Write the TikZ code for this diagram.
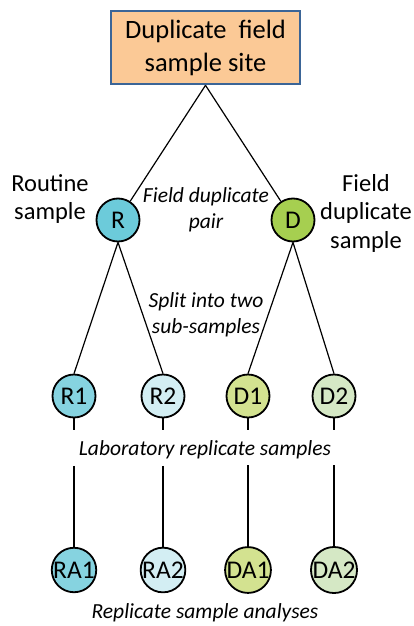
\documentclass[tikz,border=0pt]{standalone}
\usepackage{fontspec}
\setmainfont{Carlito}
\begin{document}
\begin{tikzpicture}[x=1pt,y=1pt,
  circ/.style={circle,draw=black,line width=1.8pt,minimum size=43pt,inner sep=0pt,font=\fontsize{25.5}{28}\selectfont},
  conn/.style={draw=black,line width=1.2pt},
  lbl/.style={font=\fontsize{24.5}{28.5}\selectfont,align=center},
  ilbl/.style={font=\fontsize{21.5}{26}\selectfont\itshape,align=center}]
\useasboundingbox (0,0) rectangle (414,-626);
\definecolor{boxfill}{HTML}{FBC996}
\definecolor{boxdraw}{HTML}{3B6597}
\definecolor{cR}{HTML}{6CCBDA}
\definecolor{cRone}{HTML}{86D3E0}
\definecolor{cRtwo}{HTML}{D3EEF3}
\definecolor{cD}{HTML}{A6CF50}
\definecolor{cDone}{HTML}{D3E290}
\definecolor{cDtwo}{HTML}{D5E8C5}
\node[draw=boxdraw,fill=boxfill,line width=2.6pt,minimum width=189pt,minimum height=73pt,align=center,font=\fontsize{26.5}{33}\selectfont] (site) at (205.5,-47.5) {Duplicate\ \ field\\sample site};
\node[circ,fill=cR] (R) at (118,-220) {R};
\node[circ,fill=cD] (D) at (293,-220) {D};
\node[circ,fill=cRone] (R1) at (74,-396) {R1};
\node[circ,fill=cRtwo] (R2) at (163,-396) {R2};
\node[circ,fill=cDone] (D1) at (248,-396) {D1};
\node[circ,fill=cDtwo] (D2) at (334,-396) {D2};
\node[circ,fill=cRone] (RA1) at (74,-570) {RA1};
\node[circ,fill=cRtwo] (RA2) at (163,-570) {RA2};
\node[circ,fill=cDone] (DA1) at (248,-570) {DA1};
\node[circ,fill=cDtwo] (DA2) at (334,-570) {DA2};
\node[lbl] (rs) at (50,-199) {Routine\\sample};
\node[lbl] (fds) at (366,-213) {Field\\duplicate\\sample};
\node[ilbl] (fdp) at (206,-210) {Field duplicate\\pair};
\node[ilbl] (split) at (206,-315) {Split into two\\sub-samples};
\node[ilbl] (lab) at (205,-450) {Laboratory replicate samples};
\node[ilbl] (ana) at (205,-613) {Replicate sample analyses};
\coordinate (top) at (site.south);
\draw[conn] (top) -- (R);
\draw[conn] (top) -- (D);
\draw[conn] (R.south) -- (R1.north);
\draw[conn] (R.south) -- (R2.north);
\draw[conn] (D.south) -- (D1.north);
\draw[conn] (D.south) -- (D2.north);
\foreach \a/\b in {R1/RA1,R2/RA2,D1/DA1,D2/DA2}{
  \coordinate (\a e) at ([yshift=-12pt]\a.south);
  \coordinate (\b s) at ([yshift=81pt]\b.north);
  \draw[conn] (\a.south) -- (\a e);
  \draw[conn] (\b s) -- (\b.north);
}
\end{tikzpicture}
\end{document}
